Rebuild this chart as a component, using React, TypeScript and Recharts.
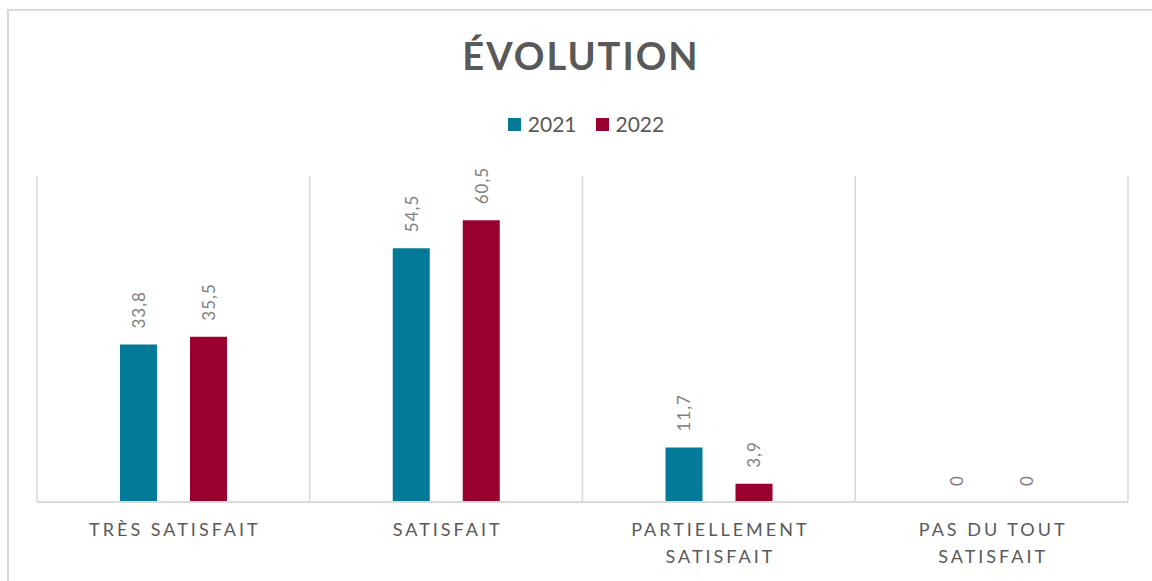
import React from 'react'
import { BarChart, Bar, XAxis, YAxis, CartesianGrid, LabelList } from 'recharts'

// categories (Excel wraps the two long ones onto two lines)
const CATEGORIES = ['TRÈS SATISFAIT', 'SATISFAIT', 'PARTIELLEMENT\nSATISFAIT', 'PAS DU TOUT\nSATISFAIT']
const V2021 = [33.8, 54.5, 11.7, 0]
const V2022 = [35.5, 60.5, 3.9, 0]
const SERIES = [
  { key: 'y2021', name: '2021', color: '#037A98' },
  { key: 'y2022', name: '2022', color: '#990030' },
]

const DATA = CATEGORIES.map((cat, i) => ({ cat, y2021: V2021[i], y2022: V2022[i] }))

const FONT = 'Lato, "Open Sans", sans-serif'
const TEXT = '#595959'
const LINE = '#D9D9D9'

const fmt = (v: number) => String(v).replace('.', ',')

function ValueLabel(props: any) {
  const { x, y, width, value } = props
  const cx = x + width / 2
  const cy = y - 16
  return (
    <text
      x={cx}
      y={cy}
      transform={`rotate(-90 ${cx} ${cy})`}
      textAnchor="start"
      dominantBaseline="central"
      fill="#808080"
      fontSize={17}
      letterSpacing={1}
      fontFamily={FONT}
    >
      {fmt(value)}
    </text>
  )
}

function CatTick(props: any) {
  const { x, y, payload } = props
  const lines = String(payload.value).split('\n')
  return (
    <text x={x} y={y} textAnchor="middle" fill={TEXT} fontSize={18} letterSpacing={3} fontFamily={FONT}>
      {lines.map((l, i) => (
        <tspan key={i} x={x + 1.5} dy={i === 0 ? 26 : 27}>
          {l}
        </tspan>
      ))}
    </text>
  )
}

export default function App() {
  const n = CATEGORIES.length
  return (
    <div style={{ position: 'fixed', left: 0, top: 0, width: 1152, height: 581, overflow: 'hidden', background: '#fff', fontFamily: FONT }}>
      <div style={{ position: 'absolute', left: 7, top: 9, width: 1200, height: 700, borderLeft: `2px solid ${LINE}`, borderTop: `2px solid ${LINE}` }} />
      <div style={{ position: 'absolute', left: 0, top: 33, width: 1162, textAlign: 'center', fontSize: 38, fontWeight: 700, letterSpacing: 2, color: TEXT, lineHeight: '44px' }}>
        ÉVOLUTION
      </div>
      <div style={{ position: 'absolute', left: 0, top: 111, width: 1172, display: 'flex', justifyContent: 'center', gap: 19, fontSize: 21, color: TEXT, lineHeight: '26px' }}>
        {SERIES.map((s) => (
          <div key={s.key} style={{ display: 'flex', alignItems: 'center', gap: 7 }}>
            <span style={{ width: 13, height: 13, background: s.color, display: 'inline-block' }} />
            <span>{s.name}</span>
          </div>
        ))}
      </div>
      <div style={{ position: 'absolute', left: 0, top: 0 }}>
        <BarChart
          width={1152}
          height={581}
          data={DATA}
          margin={{ top: 176, right: 24, left: 37, bottom: 9 }}
          barSize={37}
          barGap={33}
        >
          <CartesianGrid
            horizontal={false}
            stroke={LINE}
            strokeWidth={1.5}
            verticalCoordinatesGenerator={({ offset }: any) =>
              Array.from({ length: n + 1 }, (_, i) => offset.left + (i * offset.width) / n)
            }
          />
          <XAxis
            dataKey="cat"
            height={70}
            tickLine={false}
            axisLine={{ stroke: LINE, strokeWidth: 2 }}
            tick={<CatTick />}
            interval={0}
          />
          <YAxis hide domain={[0, 70]} />
          {SERIES.map((s) => (
            <Bar
              key={s.key}
              dataKey={s.key}
              name={s.name}
              fill={s.color}
              minPointSize={0.01}
              isAnimationActive={false}
            >
              <LabelList dataKey={s.key} content={<ValueLabel />} />
            </Bar>
          ))}
        </BarChart>
      </div>
    </div>
  )
}
